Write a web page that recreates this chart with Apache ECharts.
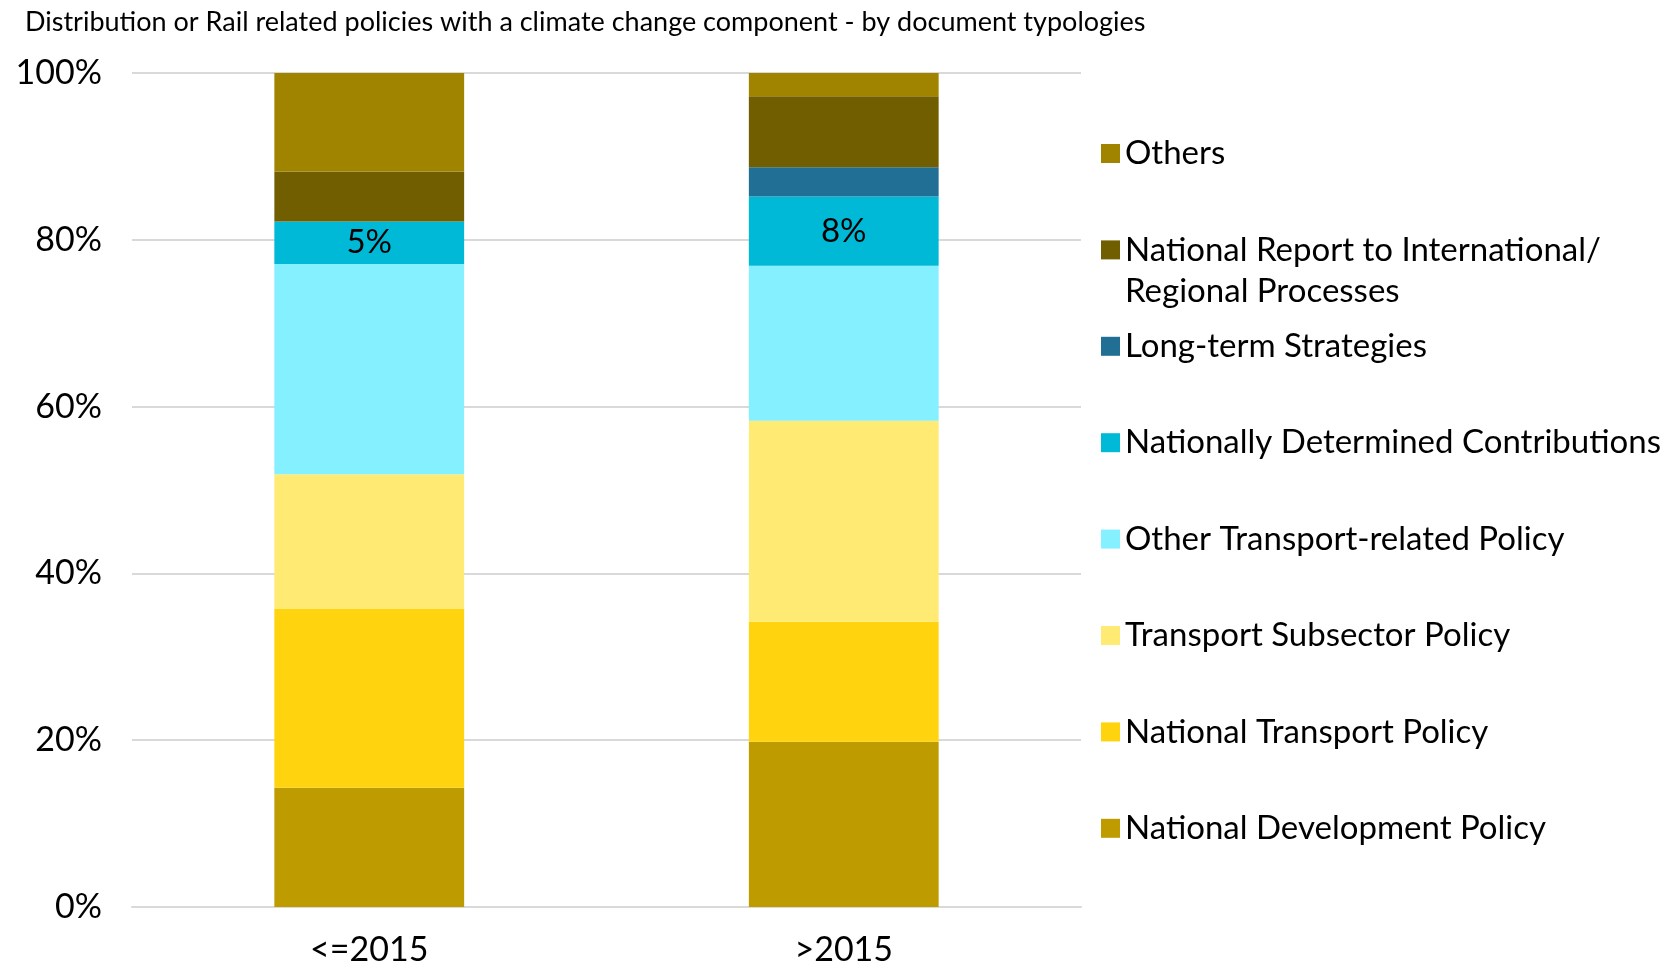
<!DOCTYPE html>
<html>
<head>
<meta charset="utf-8">
<script src="https://cdn.jsdelivr.net/npm/echarts@6/dist/echarts.min.js"></script>
<style>
  html, body { margin: 0; padding: 0; background: #ffffff; }
  #chart { width: 1672px; height: 967px; }
</style>
</head>
<body>
<div id="chart"></div>
<script>
const titleText = 'Distribution or Rail related policies with a climate change component - by document typologies';
const categories = ['<=2015', '>2015'];
const yTickValues = [0, 20, 40, 60, 80, 100];

// series, bottom to top of stack
const seriesNames = [
  'National Development Policy',
  'National Transport Policy',
  'Transport Subsector Policy',
  'Other Transport-related Policy',
  'Nationally Determined Contributions',
  'Long-term Strategies',
  'National Report to International/ Regional Processes',
  'Others'
];
const nationalDevelopment = [14.3, 19.8];
const nationalTransport = [21.5, 14.4];
const transportSubsector = [16.1, 24.1];
const otherTransport = [25.2, 18.6];
const ndc = [5.1, 8.3];
const longTerm = [0, 3.5];
const nationalReport = [6.0, 8.5];
const others = [11.8, 2.8];

const seriesValues = [nationalDevelopment, nationalTransport, transportSubsector, otherTransport, ndc, longTerm, nationalReport, others];
const seriesColors = ['#BE9C00', '#FFD30D', '#FFEB73', '#85F0FF', '#00B9D6', '#226F95', '#705E00', '#A08400'];
const labelledSeries = 'Nationally Determined Contributions';

// legend order top to bottom
const legendOrder = [
  'Others',
  'National Report to International/ Regional Processes',
  'Long-term Strategies',
  'Nationally Determined Contributions',
  'Other Transport-related Policy',
  'Transport Subsector Policy',
  'National Transport Policy',
  'National Development Policy'
];

const FONT = 'Lato';
const chart = echarts.init(document.getElementById('chart'), null, { renderer: 'canvas' });

const legendCenterStart = 153.5;
const legendStep = 96.4;
const lineH = 41.5;
const legends = legendOrder.map((name, i) => {
  const cy = legendCenterStart + i * legendStep;
  const isWrapped = name.indexOf('/ ') >= 0;
  return {
    data: [name],
    orient: 'vertical',
    left: 1101,
    top: isWrapped ? cy - lineH * 1.5 : cy - lineH / 2,
    padding: 0,
    itemWidth: 19,
    itemHeight: 19,
    itemGap: 0,
    icon: 'rect',
    selectedMode: false,
    // wrapped label: an empty first line keeps the marker level with the first text line
    formatter: n => (n.indexOf('/ ') >= 0 ? ' \n' + n.replace('/ ', '/\n') : n),
    textStyle: {
      fontFamily: FONT,
      fontSize: 33,
      color: '#000',
      lineHeight: lineH
    }
  };
});

const option = {
  animation: false,
  backgroundColor: '#ffffff',
  title: {
    text: titleText,
    left: 20,
    top: 4,
    textStyle: { fontFamily: FONT, fontSize: 27, fontWeight: 'normal', color: '#000' }
  },
  legend: legends,
  grid: { left: 132, right: 591, top: 73, bottom: 59, containLabel: false },
  xAxis: {
    type: 'category',
    data: categories,
    axisLine: { show: true, lineStyle: { color: '#d9d9d9', width: 2 } },
    axisTick: { show: false },
    axisLabel: { fontFamily: FONT, fontSize: 34, color: '#000', margin: 26 }
  },
  yAxis: {
    type: 'value',
    min: yTickValues[0],
    max: yTickValues[yTickValues.length - 1],
    interval: 20,
    axisLine: { show: false },
    axisTick: { show: false },
    splitLine: { lineStyle: { color: '#d9d9d9', width: 2 } },
    axisLabel: { fontFamily: FONT, fontSize: 34, color: '#000', margin: 30, formatter: v => v + '%' }
  },
  series: seriesNames.map((name, i) => ({
    name: name,
    type: 'bar',
    stack: 'total',
    barWidth: '40%',
    data: seriesValues[i],
    itemStyle: { color: seriesColors[i] },
    label: name === labelledSeries ? {
      show: true,
      position: 'inside',
      fontFamily: FONT,
      fontSize: 33,
      color: '#000',
      formatter: p => Math.round(p.value) + '%'
    } : { show: false }
  }))
};

chart.setOption(option);
</script>
</body>
</html>
